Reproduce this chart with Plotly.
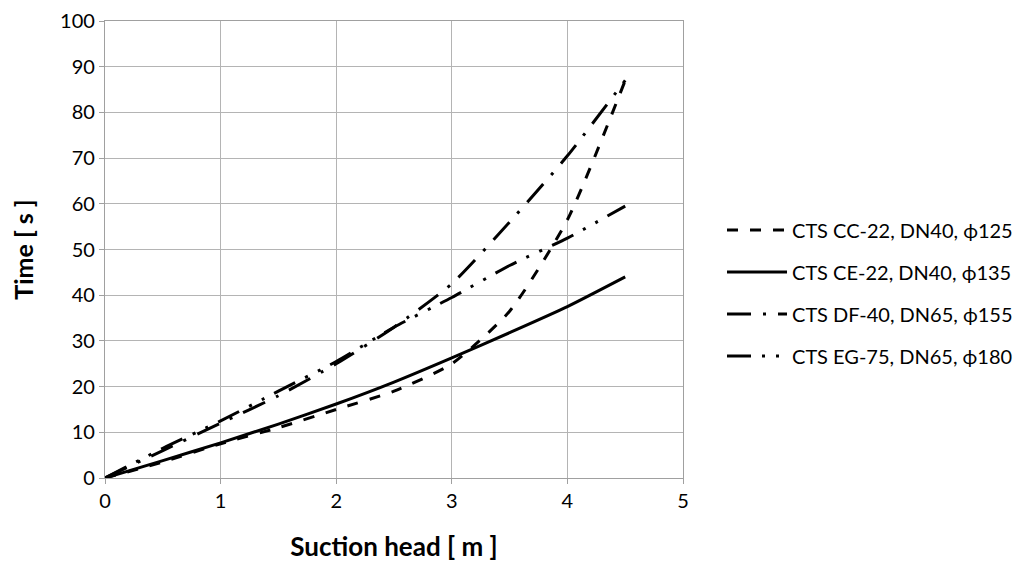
import plotly.graph_objects as go

x_head = [0, 0.5, 1, 1.5, 2, 2.5, 3, 3.5, 4, 4.5]
cc22 = [0, 3.5, 7.5, 11, 15, 19, 25, 36.5, 56.5, 87]
ce22 = [0, 3.8, 7.7, 11.8, 16.2, 21, 26.3, 31.8, 37.5, 44]
df40 = [0, 6, 12, 18, 25, 33, 42.5, 56, 70.5, 87]
eg75 = [0, 6.5, 12.5, 19, 25.5, 33, 39.5, 46.5, 52.5, 59.5]

names = ["CTS CC-22, DN40, ϕ125", "CTS CE-22, DN40, ϕ135",
         "CTS DF-40, DN65, ϕ155", "CTS EG-75, DN65, ϕ180"]
series = [cc22, ce22, df40, eg75]
dashes = ["11px,12px", "solid", "24px,12px,3px,12px", "24px,11px,3px,11px,3px,11px"]

FONT = "Lato, Open Sans, sans-serif"

fig = go.Figure()
for i, (n, s, d) in enumerate(zip(names, series, dashes)):
    fig.add_trace(go.Scatter(
        x=x_head, y=s, name=n, mode="lines", legendgroup=f"g{i}",
        line=dict(color="black", width=3, dash=d, shape="spline", smoothing=0.6),
    ))

axis_common = dict(
    showgrid=True, gridcolor="#b4b4b4", gridwidth=1.3,
    showline=True, linecolor="#a0a0a0", linewidth=1.3, mirror=True,
    ticks="outside", ticklen=5, tickcolor="#a0a0a0",
    tickfont=dict(family=FONT, size=20, color="black"),
    ticklabeloverflow="allow",
    zeroline=False, automargin=False,
)

# page body has an 8px margin, so the figure is offset by 8px
fig.update_layout(
    width=1024, height=567,
    margin=dict(l=97, r=349, t=13, b=97),
    paper_bgcolor="white", plot_bgcolor="white",
    xaxis=dict(range=[0, 5], dtick=1, **axis_common,
               title=dict(text="<b>Suction head [ m ]</b>", font=dict(family=FONT, size=26, color="black"), standoff=26)),
    yaxis=dict(range=[0, 100], dtick=10, **axis_common,
               title=dict(text="<b>Time [ s ]</b>", font=dict(family=FONT, size=25, color="black"), standoff=30)),
    legend=dict(x=0.0675 + 1, y=0.405, xanchor="left", yanchor="middle",
                font=dict(family=FONT, size=20, color="black"),
                tracegroupgap=13, itemwidth=60, bgcolor="rgba(0,0,0,0)"),
    showlegend=True,
)

fig.write_html("out.html")
